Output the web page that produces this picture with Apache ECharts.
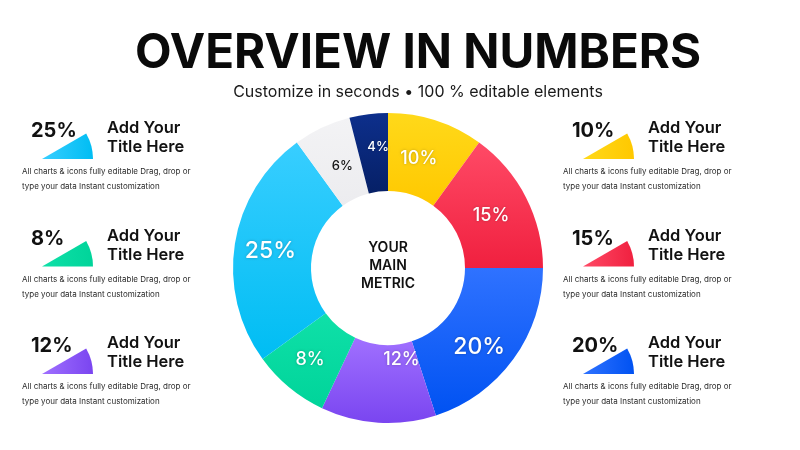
<!DOCTYPE html>
<html>
<head>
<meta charset="utf-8">
<title>Overview in numbers</title>
<script src="https://cdn.jsdelivr.net/npm/echarts@6/dist/echarts.min.js"></script>
<style>
    html, body { margin: 0; padding: 0; background: #ffffff; }
    #main { width: 800px; height: 450px; }
</style>
</head>
<body>
<div id="main"></div>
<script>
// 数据：从12点方向开始顺时针
var sliceNames = ['Yellow', 'Red', 'Blue', 'Purple', 'Green', 'Cyan', 'Gray', 'Navy'];
var shareValues = [10, 15, 20, 12, 8, 25, 6, 4];

// 两侧说明卡片对应的扇区序号（上到下）
var leftCards = [5, 4, 3];
var rightCards = [0, 1, 2];

var cardTitle = 'Add Your\nTitle Here';
var cardText = 'All charts & icons fully editable Drag, drop or\ntype your data Instant customization';

// 颜色（上 -> 下渐变）
var sliceColors = [
    ['#ffd91a', '#ffc800'],
    ['#ff4a66', '#f0203f'],
    ['#2f72ff', '#0052f2'],
    ['#a070ff', '#7a45f0'],
    ['#0fe0a8', '#00d49a'],
    ['#38ceff', '#00bdf3'],
    ['#f3f3f5', '#ececef'],
    ['#0d2f8c', '#062066']
];
// 标签微调
var labelNudge = [[-6, 4], [-3, 2], [-5, 9], [21, -27], [-2, 0], [0, 2], [5, 6], [5, -3]];

var FONT = 'Inter, "Noto Sans", sans-serif';

function vGrad(c) {
    return new echarts.graphic.LinearGradient(0, 0, 0, 1, [
        {offset: 0, color: c[0]},
        {offset: 1, color: c[1]}
    ]);
}

var pieData = shareValues.map(function (v, i) {
    return {
        name: sliceNames[i],
        value: v,
        itemStyle: {color: vGrad(sliceColors[i])},
        label: {
            fontSize: v >= 20 ? 23 : (v >= 8 ? 18 : 13),
            color: i === 6 ? '#151515' : '#ffffff',
            textShadowColor: i === 6 ? 'transparent' : 'rgba(0,0,0,0.25)',
            textShadowBlur: 3
        }
    };
});

// 两侧卡片
var graphics = [];
function addCard(idx, row, side) {
    var ox = side === 'left' ? 0 : 541;
    var oy = row * 107.5;
    var c = sliceColors[idx];
    graphics.push({
        type: 'sector',
        shape: {cx: 42 + ox, cy: 159 + oy, r: 51, r0: 0, startAngle: -Math.PI / 6, endAngle: 0},
        style: {
            fill: new echarts.graphic.LinearGradient(0, 0, 1, 0, [
                {offset: 0, color: c[0]},
                {offset: 1, color: c[1]}
            ])
        }
    });
    graphics.push({
        type: 'text',
        x: 31 + ox, y: 131 + oy, z: 10,
        style: {
            text: shareValues[idx] + '%',
            font: 'bold 20px ' + FONT,
            fill: '#111111',
            align: 'left', verticalAlign: 'middle'
        }
    });
    graphics.push({
        type: 'text',
        x: 107 + ox, y: 138 + oy,
        style: {
            text: cardTitle,
            font: '600 16.5px ' + FONT,
            lineHeight: 19,
            fill: '#111111',
            align: 'left', verticalAlign: 'middle'
        }
    });
    graphics.push({
        type: 'text',
        x: 22 + ox, y: 179.5 + oy,
        style: {
            text: cardText,
            font: '8px ' + FONT,
            lineHeight: 15,
            fill: '#2a2a2a',
            align: 'left', verticalAlign: 'middle'
        }
    });
}
leftCards.forEach(function (idx, row) { addCard(idx, row, 'left'); });
rightCards.forEach(function (idx, row) { addCard(idx, row, 'right'); });

// 标题
graphics.push({
    type: 'text', x: 418, y: 54,
    style: {
        text: 'OVERVIEW IN NUMBERS',
        font: 'bold 47.5px ' + FONT,
        fill: '#0a0a0a',
        align: 'center', verticalAlign: 'middle'
    }
});
graphics.push({
    type: 'text', x: 418, y: 92,
    style: {
        text: 'Customize in seconds \u2022 100 % editable elements',
        font: '16px ' + FONT,
        fill: '#1a1a1a',
        align: 'center', verticalAlign: 'middle'
    }
});
// 中心文字
graphics.push({
    type: 'text', x: 388, y: 266, z: 10,
    style: {
        text: 'YOUR\nMAIN\nMETRIC',
        font: '600 14px ' + FONT,
        lineHeight: 18,
        fill: '#111111',
        align: 'center', verticalAlign: 'middle'
    }
});

var myChart = echarts.init(document.getElementById('main'));
myChart.setOption({
    backgroundColor: '#ffffff',
    animation: false,
    graphic: graphics,
    series: [{
        type: 'pie',
        center: [388, 268],
        radius: [77, 155],
        startAngle: 90,
        clockwise: true,
        avoidLabelOverlap: false,
        silent: true,
        label: {
            show: true,
            position: 'inside',
            formatter: '{c}%',
            fontFamily: FONT,
            fontWeight: 500
        },
        labelLine: {show: false},
        labelLayout: function (p) {
            var n = labelNudge[p.dataIndex];
            return {dx: n[0], dy: n[1]};
        },
        itemStyle: {borderWidth: 0},
        emphasis: {disabled: true},
        data: pieData
    }]
});
</script>
</body>
</html>
